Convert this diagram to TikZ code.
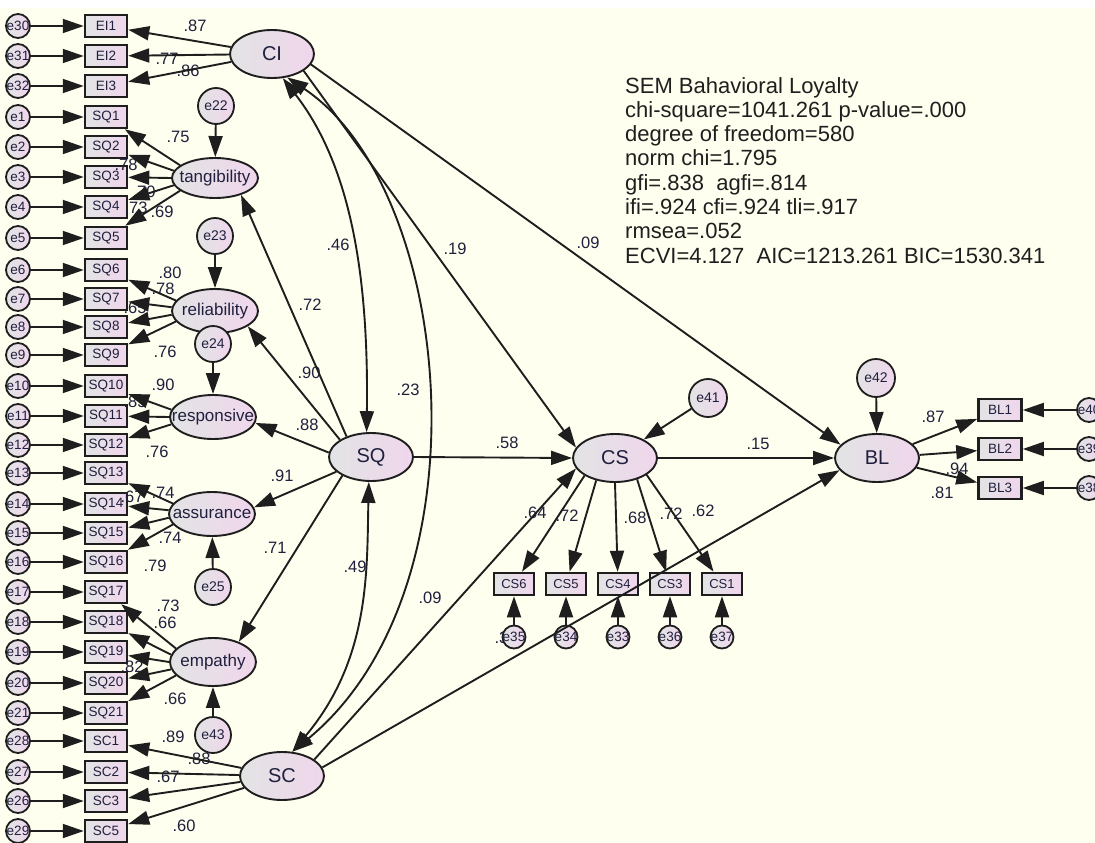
\documentclass[tikz,border=0pt]{standalone}
\usepackage{fontspec}
\setmainfont{Liberation Sans}
\usetikzlibrary{shapes.geometric,arrows.meta}

\definecolor{bg}{RGB}{255,255,240}
\definecolor{fillL}{RGB}{226,228,228}
\definecolor{fillR}{RGB}{240,214,236}
\definecolor{ink}{RGB}{30,30,30}
\definecolor{txt}{RGB}{32,32,62}

% zero-width text so the label never enlarges its shape
\newcommand\zw[1]{\makebox[0pt]{#1}}

\tikzset{
  obs/.style={rectangle, draw=ink, line width=2.5pt, left color=fillL, right color=fillR,
    minimum width=42pt, minimum height=22pt, inner sep=0pt,
    font=\fontsize{13.5}{14}\selectfont, text=txt},
  err/.style={circle, draw=ink, line width=1.8pt, left color=fillL, right color=fillR,
    minimum size=24pt, inner sep=0pt, font=\fontsize{13.5}{14}\selectfont, text=txt},
  errbig/.style={err, minimum size=36pt, font=\fontsize{14}{15}\selectfont},
  lat/.style={ellipse, draw=ink, line width=1.9pt, left color=fillL, right color=fillR,
    minimum width=84pt, minimum height=48pt, inner sep=0pt,
    font=\fontsize{20}{21}\selectfont, text=txt},
  sub/.style={lat, minimum width=86pt, minimum height=44pt, font=\fontsize{17}{18}\selectfont},
  arr/.style={draw=ink, line width=1.9pt, -{Triangle[length=21pt,width=14pt]}},
  cov/.style={draw=ink, line width=1.9pt,
    {Triangle[length=21pt,width=14pt]}-{Triangle[length=21pt,width=14pt]}},
  lbl/.style={font=\fontsize{16.5}{17}\selectfont, text=txt, inner sep=0pt},
  fit/.style={font=\fontsize{22}{24}\selectfont, text=black!88, inner sep=0pt, anchor=base west},
}

\begin{document}
\begin{tikzpicture}[x=1pt, y=-1pt]
\useasboundingbox (0,0) rectangle (1095,843);
\fill[white] (0,0) rectangle (1095,8);
\fill[bg] (0,8) rectangle (1095,843);

% ---- left column: indicators and their error terms
\foreach \n/\e/\y in {EI1/e30/26, EI2/e31/56, EI3/e32/86,
  SQ1/e1/117, SQ2/e2/147, SQ3/e3/177, SQ4/e4/207, SQ5/e5/238,
  SQ6/e6/270, SQ7/e7/299, SQ8/e8/327, SQ9/e9/355,
  SQ10/e10/386, SQ11/e11/416, SQ12/e12/445,
  SQ13/e13/473, SQ14/e14/504, SQ15/e15/533, SQ16/e16/562,
  SQ17/e17/592, SQ18/e18/622, SQ19/e19/652, SQ20/e20/683, SQ21/e21/713,
  SC1/e28/741, SC2/e27/772, SC3/e26/801, SC5/e29/831} {
  \node[obs] (\n) at (106,\y) {\n};
  \node[err] (\e) at (18,\y) {\zw{\e}};
}

% ---- latent variables
\node[lat] (CI) at (272,54) {CI};
\node[sub, minimum height=40pt] (tang) at (215,178) {\zw{tangibility}};
\node[sub] (reli) at (215,311) {\zw{reliability}};
\node[sub] (resp) at (213,417) {\zw{responsive}};
\node[sub] (assu) at (212,514) {\zw{assurance}};
\node[sub, minimum height=48pt] (empa) at (213,662) {\zw{empathy}};
\node[lat] (SQ) at (371,457) {SQ};
\node[lat] (SC) at (282,776) {SC};
\node[lat] (CS) at (615,458) {CS};
\node[lat] (BL) at (877,458) {BL};

% ---- disturbances
\node[errbig] (e22) at (216,106) {\zw{e22}};
\node[errbig] (e23) at (215,236) {\zw{e23}};
\node[errbig] (e24) at (213,344) {\zw{e24}};
\node[errbig] (e25) at (213,587) {\zw{e25}};
\node[errbig] (e43) at (213,735) {\zw{e43}};
\node[errbig, minimum size=38pt] (e41) at (708,398) {\zw{e41}};
\node[errbig, minimum size=38pt] (e42) at (876,378) {\zw{e42}};

% ---- CS indicators
\node[lbl] (lab33) at (506,638) {.33};
\foreach \n/\e/\x in {CS6/e35/514, CS5/e34/566, CS4/e33/618, CS3/e36/670, CS1/e37/722} {
  \node[obs, minimum width=40pt, font=\fontsize{13}{14}\selectfont] (\n) at (\x,584) {\n};
  \node[err, minimum size=23pt] (\e) at (\x,637) {\zw{\e}};
}

% ---- BL indicators
\foreach \n/\e/\y in {BL1/e40/410, BL2/e39/449, BL3/e38/488} {
  \node[obs, minimum width=43pt] (\n) at (1000,\y) {\n};
  \node[err] (\e) at (1089,\y) {\zw{\e}};
}

% ---- estimates (set before the paths, which run over them)
\foreach \x/\y/\t [count=\k] in {
  195/26/.87, 167/59/.77, 188/71/.86,
  178/137/.75, 126/165/.78, 144/192/.70, 136/208/.73, 162/212/.69,
  170/273/.80, 163/289/.78, 135/308/.65, 165/352/.76,
  163/385/.90, 135/402/.85, 157/452/.76,
  163/493/.74, 132/497/.67, 170/538/.74, 155/566/.79,
  168/606/.73, 165/623/.66, 132/667/.82, 175/699/.66,
  173/737/.89, 199/759/.88, 168/777/.67, 184/826/.60,
  310/305/.72, 309/373/.90, 307/425/.88, 282/476/.91, 275/548/.71,
  338/245/.46, 455/249/.19, 588/243/.09, 408/390/.23, 507/443/.58,
  355/567/.49, 430/598/.09, 758/444/.15,
  535/513/.64, 567/516/.72, 635/518/.68, 671/514/.72, 703/511/.62,
  933/417/.87, 957/469/.94, 942/493/.81}
  \node[lbl] (est\k) at (\x,\y) {\t};

% ---- error paths
\foreach \n/\e in {EI1/e30, EI2/e31, EI3/e32, SQ1/e1, SQ2/e2, SQ3/e3, SQ4/e4, SQ5/e5,
  SQ6/e6, SQ7/e7, SQ8/e8, SQ9/e9, SQ10/e10, SQ11/e11, SQ12/e12,
  SQ13/e13, SQ14/e14, SQ15/e15, SQ16/e16, SQ17/e17, SQ18/e18, SQ19/e19, SQ20/e20, SQ21/e21,
  SC1/e28, SC2/e27, SC3/e26, SC5/e29, CS6/e35, CS5/e34, CS4/e33, CS3/e36, CS1/e37,
  BL1/e40, BL2/e39, BL3/e38}
  \draw[arr] (\e) -- (\n);
\draw[arr] (e22) -- (tang);
\draw[arr] (e23) -- (reli);
\draw[arr] (e24) -- (resp);
\draw[arr] (e25) -- (assu);
\draw[arr] (e43) -- (empa);
\draw[arr] (e41) -- (CS);
\draw[arr] (e42) -- (BL);

% ---- loadings
\foreach \n in {EI1, EI2, EI3} \draw[arr] (CI) -- (\n);
\foreach \n/\a in {SQ1/160, SQ2/170, SQ3/180, SQ4/190, SQ5/200} \draw[arr] (tang.\a) -- (\n);
\foreach \n/\a in {SQ6/165, SQ7/175, SQ8/185, SQ9/195} \draw[arr] (reli.\a) -- (\n);
\foreach \n/\a in {SQ10/170, SQ11/180, SQ12/190} \draw[arr] (resp.\a) -- (\n);
\foreach \n/\a in {SQ13/165, SQ14/175, SQ15/185, SQ16/195} \draw[arr] (assu.\a) -- (\n);
\foreach \n/\a in {SQ17/160, SQ18/170, SQ19/180, SQ20/190, SQ21/200} \draw[arr] (empa.\a) -- (\n);
\foreach \n in {SC1, SC2, SC3, SC5} \draw[arr] (SC) -- (\n);
\foreach \n/\a in {CS6/210, CS5/230, CS4/270, CS3/316, CS1/332} \draw[arr] (CS.\a) -- (\n);
\foreach \n in {BL1, BL2, BL3} \draw[arr] (BL) -- (\n);

% ---- second-order paths
\draw[arr] (SQ.140) -- (tang.-33);
\draw[arr] (SQ.151) -- (reli.-25);
\draw[arr] (SQ.174) -- (resp.-8);
\draw[arr] (SQ.203) -- (assu.9);
\draw[arr] (SQ.213) -- (empa.38);

% ---- structural paths
\draw[arr] (SQ.east) -- (CS.west);
\draw[arr] (CS.east) -- (BL.west);
\draw[arr] (CI.-28) -- (CS.165);
\draw[arr] (CI.-15) -- (BL.160);
\draw[arr] (SC.27) -- (CS.195);
\draw[arr] (SC.12) -- (BL.198);

% ---- covariances
\draw[cov] (CI.-66) .. controls +(70,90) and +(2,-150) .. (SQ.100);
\draw[cov] (CI.-57) .. controls +(168,113) and +(198,-163) .. (SC.67);
\draw[cov] (SQ.-95) .. controls +(-2,89) and +(78,-93) .. (SC.67);

% ---- fit summary
\node[fit] (t1) at (625,93) {SEM Bahavioral Loyalty};
\node[fit] (t2) at (625,117.3) {chi-square=1041.261 p-value=.000};
\node[fit] (t3) at (625,141.6) {degree of freedom=580};
\node[fit] (t4) at (625,165.9) {norm chi=1.795};
\node[fit] (t5) at (625,190.2) {gfi=.838\ \ agfi=.814};
\node[fit] (t6) at (625,214.5) {ifi=.924 cfi=.924 tli=.917};
\node[fit] (t7) at (625,238.8) {rmsea=.052};
\node[fit] (t8) at (625,263.1) {ECVI=4.127\ \ AIC=1213.261 BIC=1530.341};
\end{tikzpicture}
\end{document}
